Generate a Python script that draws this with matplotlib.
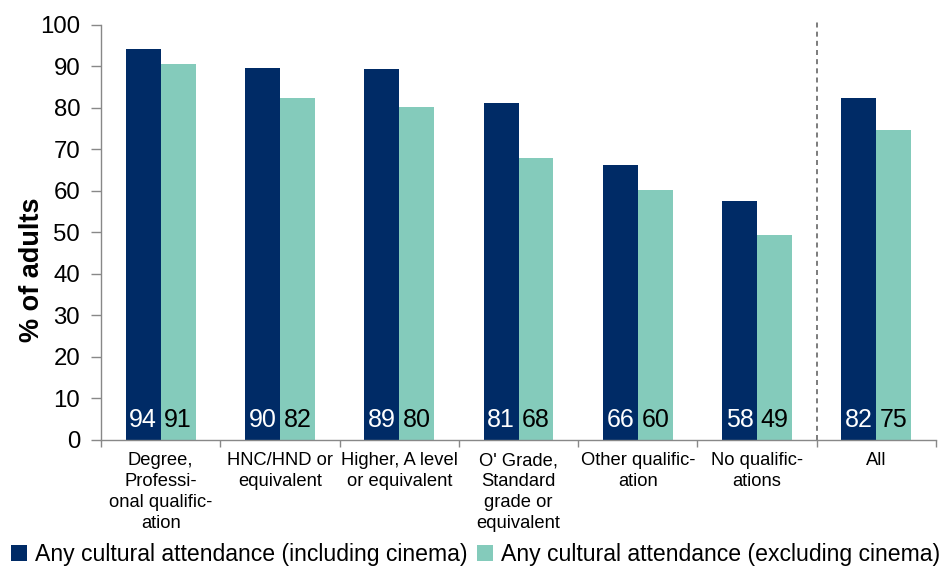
import matplotlib
matplotlib.use("Agg")
import matplotlib.pyplot as plt
import numpy as np

plt.rcParams['font.family'] = ['Liberation Sans', 'DejaVu Sans']

categories = [
    "Degree,\nProfessi-\nonal qualific-\nation",
    "HNC/HND or\nequivalent",
    "Higher, A level\nor equivalent",
    "O' Grade,\nStandard\ngrade or\nequivalent",
    "Other qualific-\nation",
    "No qualific-\nations",
    "All",
]
series_names = [
    "Any cultural attendance (including cinema)",
    "Any cultural attendance (excluding cinema)",
]
incl_cinema = [94.2, 89.7, 89.4, 81.3, 66.3, 57.6, 82.4]
excl_cinema = [90.6, 82.4, 80.3, 68.0, 60.2, 49.4, 74.6]
y_ticks = [0, 10, 20, 30, 40, 50, 60, 70, 80, 90, 100]

navy = '#002B66'
teal = '#84CBBB'

fig = plt.figure(figsize=(9.46, 5.67), dpi=100)
ax = fig.add_axes([0.1068, 0.224, 0.8826, 0.732])

x = np.arange(len(categories))
w = 0.293
b1 = ax.bar(x - w / 2, incl_cinema, width=w, color=navy, label=series_names[0])
b2 = ax.bar(x + w / 2, excl_cinema, width=w, color=teal, label=series_names[1])

for rect, v in zip(b1, incl_cinema):
    ax.text(rect.get_x() + rect.get_width() / 2, 4.9, f"{round(v):d}",
            ha='center', va='center', color='white', fontsize=18)
for rect, v in zip(b2, excl_cinema):
    ax.text(rect.get_x() + rect.get_width() / 2, 4.9, f"{round(v):d}",
            ha='center', va='center', color='black', fontsize=18)

# separator before the overall figure
ax.axvline(5.5, ymin=0, ymax=1.008, color='#666666', linestyle=(0, (3, 2.5)),
           linewidth=1.2, clip_on=False)

ax.set_xlim(-0.5, len(categories) - 0.5)
ax.set_ylim(0, 100)
ax.set_yticks(y_ticks)
ax.tick_params(axis='y', labelsize=17.3, length=7, width=1, color='#888888', pad=8)

ax.set_xticks(np.arange(len(categories) + 1) - 0.5)
ax.set_xticklabels([])
ax.set_xticks(x, minor=True)
ax.set_xticklabels(categories, minor=True, fontsize=13.2, linespacing=1.3)
ax.tick_params(axis='x', which='major', length=5, width=1, color='#888888')
ax.tick_params(axis='x', which='minor', length=0, pad=9)

for s in ['top', 'right']:
    ax.spines[s].set_visible(False)
for s in ['left', 'bottom']:
    ax.spines[s].set_color('#888888')
    ax.spines[s].set_linewidth(1)

fig.text(0.034, 0.524, "% of adults", fontsize=19.5, fontweight='bold',
         rotation=90, ha='center', va='center')

fig.legend(handles=[b1, b2], loc='center', bbox_to_anchor=(0.503, 0.022),
           ncol=2, frameon=False, fontsize=16.6, handlelength=0.7,
           handleheight=0.7, handletextpad=0.35, columnspacing=0.4,
           borderaxespad=0.0, borderpad=0.0)

fig.savefig("out.png", dpi=100)
